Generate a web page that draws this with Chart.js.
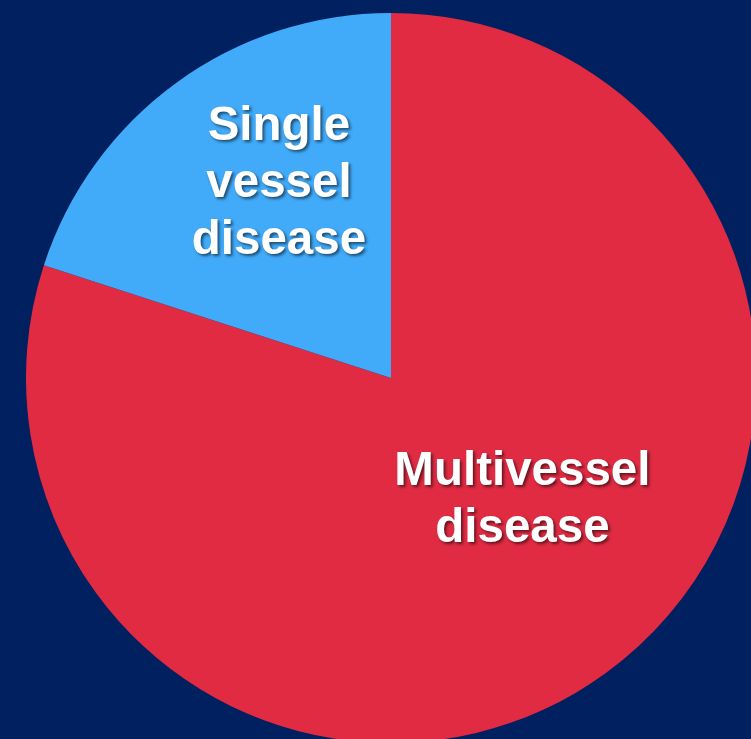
<!DOCTYPE html>
<html>
<head>
<meta charset="utf-8">
<script src="https://cdn.jsdelivr.net/npm/chart.js@4"></script>
<style>
  html, body { margin: 0; padding: 0; width: 751px; height: 739px; overflow: hidden; background: #00205f; }
  #wrap { position: absolute; left: 26px; top: 13px; width: 730px; height: 730px; }
</style>
</head>
<body>
<div id="wrap"><canvas id="pieChart" width="730" height="730"></canvas></div>
<script>
// chart data
var labels = [["Multivessel", "disease"], ["Single", "vessel", "disease"]];
var shares = [80, 20];
var colors = ["#e02b43", "#41aaf9"];

// where each label sits, relative to pie centre (in radius units)
var labelOffsets = [[0.36, 0.335], [-0.307, -0.532]];

const labelPlugin = {
  id: "sliceLabels",
  afterDatasetsDraw(chart) {
    const ctx = chart.ctx;
    const meta = chart.getDatasetMeta(0);
    ctx.save();
    ctx.font = "bold 47.5px 'Liberation Sans', Arial, sans-serif";
    ctx.fillStyle = "#ffffff";
    ctx.textAlign = "center";
    ctx.textBaseline = "middle";
    ctx.shadowColor = "rgba(0,0,0,0.55)";
    ctx.shadowOffsetX = 2;
    ctx.shadowOffsetY = 2;
    ctx.shadowBlur = 3;
    meta.data.forEach((arc, i) => {
      const r = arc.outerRadius;
      const cx = arc.x + labelOffsets[i][0] * r;
      const cy = arc.y + labelOffsets[i][1] * r;
      const lines = labels[i];
      const lh = 57;
      lines.forEach((txt, j) => {
        ctx.fillText(txt, cx, cy + (j - (lines.length - 1) / 2) * lh);
      });
    });
    ctx.restore();
  }
};

new Chart(document.getElementById("pieChart"), {
  type: "pie",
  data: {
    labels: labels.map(l => l.join(" ")),
    datasets: [{
      data: shares,
      backgroundColor: colors,
      borderWidth: 0
    }]
  },
  options: {
    responsive: false,
    animation: false,
    layout: { padding: 0 },
    plugins: {
      legend: { display: false },
      tooltip: { enabled: false }
    }
  },
  plugins: [labelPlugin]
});
</script>
</body>
</html>
